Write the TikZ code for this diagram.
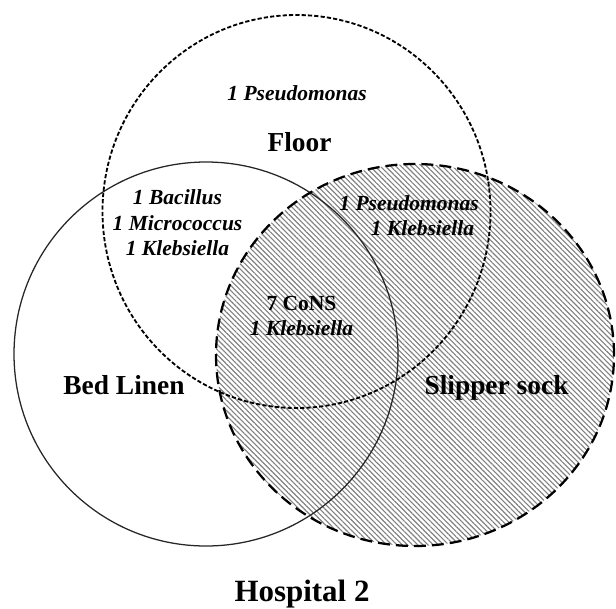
\documentclass[tikz,border=0pt]{standalone}
\usepackage{fontspec}
\setmainfont{Liberation Serif}
\usepackage{tikz}
\usetikzlibrary{patterns.meta,positioning}

\begin{document}
\begin{tikzpicture}[x=0.025cm,y=0.025cm,
    region/.style={font=\fontsize{19.5}{22}\selectfont\bfseries},
    germ/.style={font=\fontsize{15.3}{18.1}\selectfont\bfseries\itshape,align=center},
    floorline/.style={line width=1.3pt,dash pattern=on 3pt off 1.5pt},
    linenline/.style={line width=0.9pt,black!85},
    sockline/.style={line width=1.6pt,dash pattern=on 8.5pt off 4.3pt},
    sockfill/.style={pattern={Lines[angle=-45,distance=2.6pt,line width=0.8pt]},pattern color=black!50}]
      \useasboundingbox (0,0) rectangle (616,608);
      \coordinate (c_floor) at (296.5,396.5);
      \coordinate (c_linen) at (206,254);
      \coordinate (c_sock) at (415,253);
      % hatched set first, outlines on top
      \fill[sockfill] (c_sock) ellipse [x radius=199,y radius=191];
      \draw[linenline] (c_linen) circle [radius=192];
      \draw[floorline] (c_floor) ellipse [x radius=194,y radius=196.5];
      \draw[sockline] (c_sock) ellipse [x radius=199,y radius=191];
      \node[region,anchor=base] (floor) at (299.5,457) {Floor};
      \node[region,anchor=base] (linen) at (124,214) {Bed Linen};
      \node[region,anchor=base] (sock) at (496.5,214) {Slipper sock};
      \node[region,anchor=base,font=\fontsize{22}{24}\selectfont\bfseries] (hosp) at (302,7) {Hospital 2};
      \node[germ,anchor=base] (f_only) at (297,508) {1 Pseudomonas};
      \node[germ] (fl_both) at (177.5,385) {1 Bacillus\\1 Micrococcus\\1 Klebsiella};
      \node[germ,anchor=base] (fs_ps) at (409,398) {1 Pseudomonas};
      \node[germ,anchor=base] (fs_kl) at (422.5,373) {1 Klebsiella};
      \node[germ] (all3) at (301.5,292) {\upshape 7 CoNS\\1 Klebsiella};
\end{tikzpicture}
\end{document}
